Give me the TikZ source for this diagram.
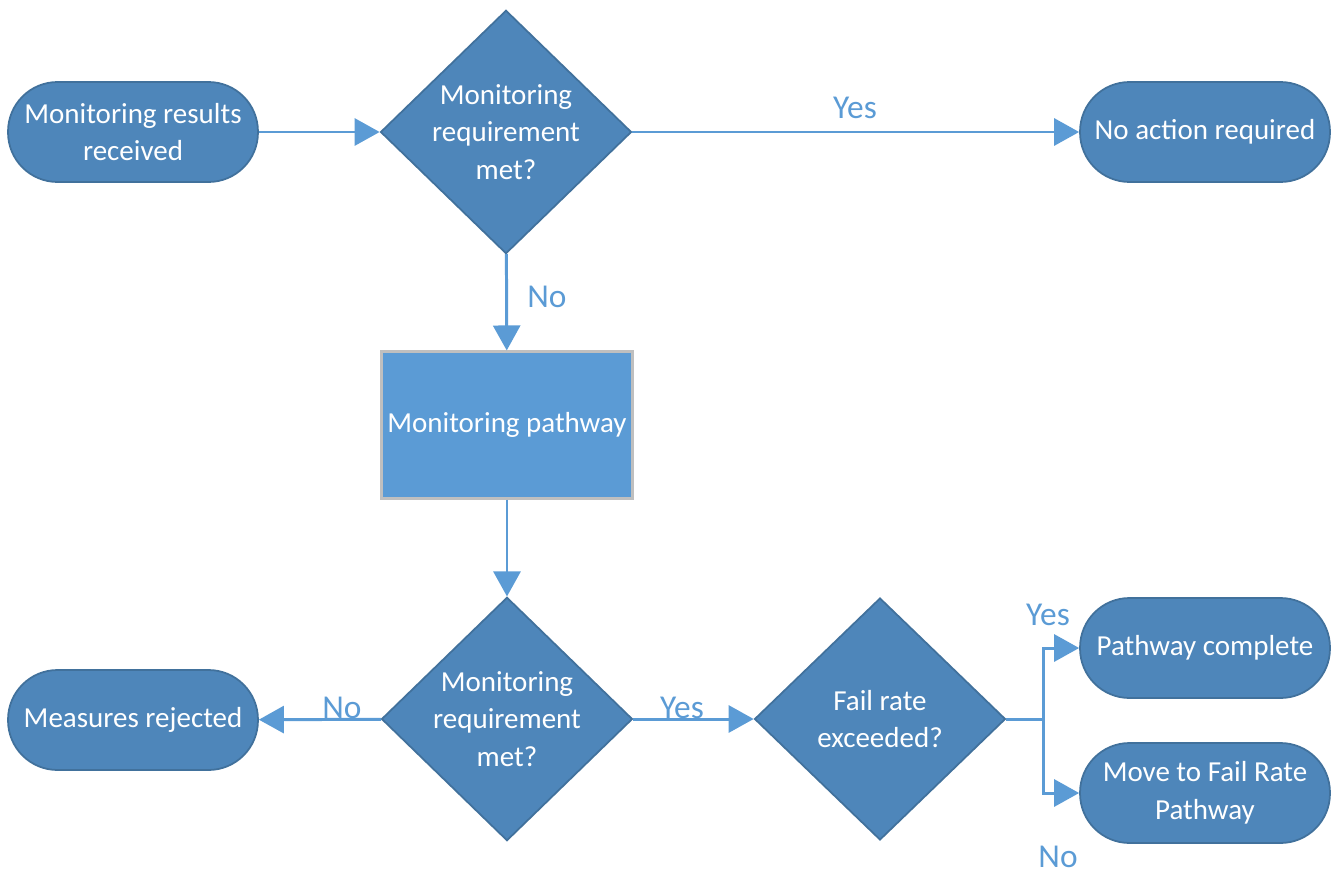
\documentclass[tikz,border=0pt]{standalone}
\usepackage{fontspec}
\setmainfont{Carlito}
\usetikzlibrary{shapes.geometric, arrows.meta, positioning}

\definecolor{shapeblue}{HTML}{4E86BA}
\definecolor{edgeblue}{HTML}{41719C}
\definecolor{boxblue}{HTML}{5B9BD5}
\definecolor{boxgrey}{HTML}{BFBFBF}
\definecolor{lineblue}{HTML}{5B9BD5}

\begin{document}
\begin{tikzpicture}[x=0.02cm, y=-0.02cm,
    terminal/.style={draw=edgeblue, fill=shapeblue, line width=1pt, rectangle, rounded corners=0.99cm, minimum width=5cm, minimum height=2cm, align=center, text=white, font=\fontsize{16.5}{21.5}\selectfont},
    decision/.style={draw=edgeblue, fill=shapeblue, line width=1pt, diamond, inner sep=0pt, minimum width=5.02cm, minimum height=4.84cm, align=center, text=white, font=\fontsize{16.5}{21.5}\selectfont},
    process/.style={draw=boxgrey, fill=boxblue, line width=1.2pt, rectangle, minimum width=5cm, minimum height=2.94cm, align=center, text=white, font=\fontsize{16.5}{21.5}\selectfont},
    flow/.style={draw=lineblue, line width=1.7pt, -{Triangle[length=0.5cm, width=0.54cm]}},
    answer/.style={text=lineblue, font=\fontsize{19}{22}\selectfont}]
    \useasboundingbox (0,0) rectangle (1339,876);

    % Nodes
    \node[terminal] (received) at (133,132) {Monitoring results\\received};
    \node[decision] (check1) at (506,132) {Monitoring\\requirement\\met?};
    \node[terminal] (noaction) at (1205,132) {No action required};
    \node[process] (pathway) at (507,425) {Monitoring pathway};
    \node[decision] (check2) at (507,719) {Monitoring\\requirement\\met?};
    \node[terminal] (rejected) at (133,720) {Measures rejected};
    \node[decision] (failrate) at (880,719) {Fail rate\\exceeded?};
    \node[terminal] (complete) at (1205,648) {Pathway complete};
    \node[terminal] (movefail) at (1205,793) {Move to Fail Rate\\Pathway};
    \coordinate (split) at (1043,719);

    % Connections
    \draw[flow] (received) -- (check1);
    \draw[flow] (check1) -- (noaction);
    \draw[flow] (check1) -- (pathway);
    \draw[flow] (pathway) -- (check2);
    \draw[flow] (check2) -- (rejected);
    \draw[flow] (check2) -- (failrate);
    \draw[draw=lineblue, line width=1.7pt] (failrate) -- (split);
    \draw[flow] (split) |- (complete);
    \draw[flow] (split) |- (movefail);

    % Labels
    \node[answer] (yes1) at (855,108) {Yes};
    \node[answer] (no1) at (547,297) {No};
    \node[answer] (no2) at (342,708) {No};
    \node[answer] (yes2) at (682,708) {Yes};
    \node[answer] (yes3) at (1048,615) {Yes};
    \node[answer] (no3) at (1058,857) {No};
\end{tikzpicture}
\end{document}
